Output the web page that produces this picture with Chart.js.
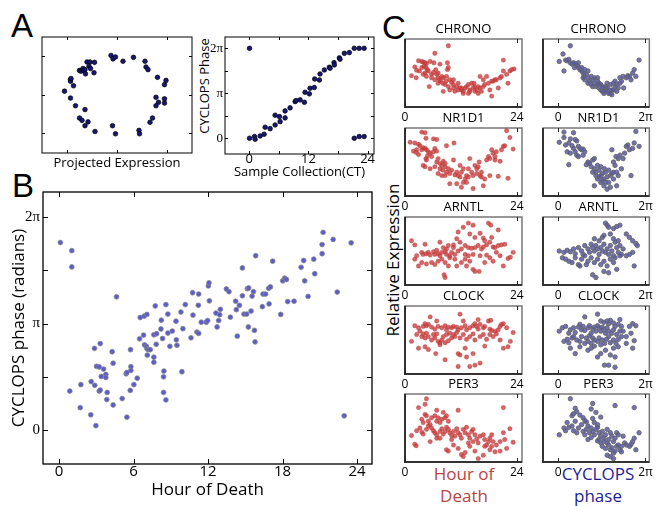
<!DOCTYPE html>
<html>
<head>
<meta charset="utf-8">
<script src="https://cdn.jsdelivr.net/npm/chart.js@4.4.1/dist/chart.umd.min.js"></script>
<style>
  body { margin: 0; background: #fff; }
  #fig { position: relative; width: 656px; height: 506px; overflow: hidden; font-family: 'Open Sans', sans-serif; }
  #fig canvas { position: absolute; }
  .lbl { position: absolute; white-space: nowrap; color: #000; }
  .letter { font-family: 'Liberation Sans', Arial, sans-serif; font-size: 33px; line-height: 33px; }
  .rot { transform: translate(-50%, -50%) rotate(-90deg); line-height: 1.2; }
  .foot { width: 120px; text-align: center; font-size: 17px; line-height: 22px; }
</style>
</head>
<body>
<div id="fig">
  <div class="lbl letter" style="left:11px;top:9px">A</div>
  <div class="lbl letter" style="left:12px;top:169px">B</div>
  <div class="lbl letter" style="left:382px;top:11px">C</div>
  <div class="lbl rot" style="left:205px;top:86px;font-size:13px">CYCLOPS Phase</div>
  <div class="lbl rot" style="left:393px;top:260px;font-size:17px">Relative Expression</div>
  <div class="lbl foot" style="left:404px;top:463px;color:#b8433f">Hour of<br>Death</div>
  <div class="lbl foot" style="left:538px;top:463px;color:#1e1e96">CYCLOPS<br>phase</div>
</div>
<script>
// A: projected expression (circle) and CYCLOPS phase vs sample time
const projectedExpression = [[-1.05,0.09],[-0.93,0.39],[-0.93,0.35],[-0.92,0.42],[-0.93,-0.09],[-0.87,0.23],[-0.83,-0.29],[-0.75,0.63],[-0.72,0.61],[-0.69,0.65],[-0.68,0.68],[-0.66,0.63],[-0.64,0.65],[-0.63,0.54],[-0.60,0.85],[-0.54,0.85],[-0.45,0.84],[-0.56,0.74],[-0.53,0.68],[-0.46,0.57],[-0.64,-0.39],[-0.75,-0.61],[-0.70,-0.67],[-0.58,-0.71],[-0.64,-0.81],[-0.44,-0.96],[-0.12,1.02],[-0.08,0.93],[-0.03,0.98],[0.12,0.87],[0.33,0.97],[0.56,0.87],[0.58,0.72],[0.62,0.65],[0.81,0.45],[0.95,0.26],[0.98,0.37],[0.78,-0.07],[0.83,-0.20],[0.78,-0.29],[0.95,-0.11],[0.95,-0.22],[0.71,-0.61],[0.66,-0.72],[0.44,-0.93],[0.45,-1.02],[-0.09,-0.81],[-0.03,-1.02]];
const sampleCollection = [[0.07,6.28],[0.07,0],[1.08,0.12],[1.21,-0.07],[2.23,0.16],[3.03,0.28],[3.24,0.77],[4.25,0.67],[5.26,0.93],[5.26,1.61],[6.14,1.51],[6.27,1.16],[7.28,1.42],[7.28,1.91],[8.29,2.12],[9.31,2.56],[9.51,2.63],[10.32,2.68],[11.19,2.51],[11.33,3.21],[12.2,3.10],[12.34,3.49],[13.2,3.54],[13.28,4.14],[14.23,4.07],[14.36,4.49],[15.24,4.77],[16.25,4.96],[16.39,4.89],[17.2,5.28],[17.26,5.12],[18.27,5.61],[18.41,5.52],[19.29,5.93],[20.3,5.98],[21.3,6.28],[22.3,6.28],[23.3,6.28],[21.3,0],[22.3,0.12],[23.3,0.12]];

// B: hour of death vs CYCLOPS phase
const hourOfDeath = [[0.1,5.53],[1.02,5.29],[1.02,4.81],[0.86,1.15],[1.75,1.34],[1.70,0.66],[2.55,0.45],[2.58,1.43],[2.87,1.32],[2.96,0.13],[2.85,2.41],[3.01,1.88],[3.23,1.86],[3.31,2.55],[3.23,1.15],[3.31,1.18],[3.39,1.58],[3.58,1.80],[3.76,1.64],[3.76,1.55],[3.87,1.11],[3.84,0.90],[4.27,2.31],[4.35,1.97],[4.35,0.74],[4.62,3.93],[5.08,0.93],[5.40,1.66],[5.46,1.70],[5.46,0.38],[5.73,1.17],[5.78,1.87],[5.78,1.76],[5.75,2.37],[6.02,1.34],[6.29,1.53],[6.48,2.69],[6.53,3.32],[6.80,2.80],[6.85,3.36],[6.88,2.51],[7.02,2.47],[7.07,3.41],[7.10,2.21],[7.07,2.40],[7.18,2.37],[7.34,2.37],[7.63,2.81],[7.63,2.15],[7.63,2.00],[7.74,3.66],[7.82,2.53],[7.85,2.84],[8.20,2.98],[8.33,2.70],[8.23,3.24],[8.41,1.57],[8.44,1.74],[8.41,1.11],[8.60,0.89],[8.60,3.70],[8.76,3.42],[8.76,2.86],[8.92,2.47],[9.11,2.92],[9.41,3.21],[9.44,2.66],[9.49,2.50],[9.81,3.48],[9.97,2.99],[9.89,1.72],[10.16,3.70],[10.62,2.72],[10.75,4.05],[10.78,3.39],[11.10,2.89],[11.21,3.68],[11.24,4.01],[11.24,2.85],[11.45,3.18],[11.85,3.18],[11.96,3.23],[12.02,4.25],[12.07,4.34],[12.10,3.81],[12.63,3.45],[12.72,3.04],[12.85,3.23],[12.93,3.40],[12.98,3.56],[13.47,4.16],[13.68,4.08],[13.79,3.33],[14.22,3.80],[14.27,3.55],[14.35,2.77],[14.52,3.68],[14.76,4.78],[14.76,3.96],[14.89,3.42],[15.11,3.42],[15.16,4.17],[15.27,4.19],[15.24,3.04],[15.46,3.51],[15.54,3.95],[15.65,4.08],[15.73,2.94],[15.78,2.60],[15.83,5.14],[16.37,3.64],[16.42,4.01],[16.63,4.01],[16.88,4.18],[16.91,3.72],[17.02,4.22],[17.20,4.98],[17.85,3.41],[18.01,4.40],[18.17,4.48],[18.31,4.44],[18.41,3.79],[18.92,3.80],[19.49,4.80],[19.70,5.00],[19.78,4.40],[20.05,3.94],[20.51,5.04],[20.59,4.61],[21.18,5.20],[21.18,5.47],[21.26,5.83],[22.07,5.62],[22.40,4.07],[22.96,0.42],[23.52,5.52]];

// C: relative expression per gene, by hour of death and by CYCLOPS phase
const genes = ['CHRONO', 'NR1D1', 'ARNTL', 'CLOCK', 'PER3'];
const chronoByHour = [[9.3,9.0],[6.4,7.9],[2.9,6.8],[3.6,6.7],[3.9,6.6],[4.3,6.5],[4.6,6.4],[5.4,6.7],[6.2,6.5],[9.1,6.5],[2.1,5.9],[1.4,4.6],[2.4,4.3],[2.5,5.4],[3.1,5.3],[3.6,5.8],[4.1,6.0],[4.5,5.8],[4.8,5.5],[5.0,5.3],[4.3,5.0],[3.9,4.8],[4.6,4.5],[5.2,3.0],[5.7,4.8],[6.1,5.1],[6.6,5.5],[6.8,4.8],[7.1,4.3],[7.4,4.0],[7.6,3.8],[8.1,3.5],[8.2,4.3],[8.6,3.3],[8.9,4.5],[9.1,5.5],[9.3,5.8],[9.3,3.0],[9.6,4.0],[10.0,3.6],[10.4,3.3],[10.7,2.3],[11.1,3.0],[11.4,3.5],[11.8,2.8],[12.1,2.5],[12.5,2.3],[12.9,2.8],[13.2,3.0],[13.6,2.0],[13.9,2.5],[14.3,3.5],[14.6,2.8],[15.0,3.0],[15.4,2.5],[15.7,2.0],[16.1,4.5],[16.4,2.3],[16.8,3.0],[17.1,3.3],[17.5,4.5],[17.9,3.5],[18.2,2.5],[18.6,1.6],[18.6,3.8],[18.9,3.8],[19.3,4.0],[19.6,4.0],[20.0,2.8],[20.4,4.3],[20.7,4.5],[21.1,5.3],[21.1,6.9],[21.8,4.8],[22.1,3.5],[22.5,5.3],[22.9,5.5],[23.4,5.6],[7.5,6.3],[7.1,5.0],[7.9,4.5],[8.8,3.8],[10.4,2.8],[12.1,2.8],[13.6,3.3],[14.8,3.5],[15.7,3.0],[16.8,4.0],[16.1,2.8],[8.2,2.3],[9.6,2.5],[10.4,4.0],[11.4,2.5],[12.5,2.0],[13.9,2.3],[15.0,2.3],[7.1,3.5],[6.4,4.0],[5.7,4.3]];
const chronoByPhase = [[0.87,9.0],[0.34,7.8],[0.07,6.7],[0.41,5.3],[0.53,6.9],[0.64,6.8],[0.76,7.0],[0.87,6.5],[0.99,6.3],[1.10,6.5],[1.22,6.4],[1.33,6.1],[1.17,5.8],[1.45,5.8],[1.56,5.5],[1.68,5.3],[1.79,5.0],[1.91,4.0],[1.86,4.6],[2.02,4.8],[2.14,4.3],[2.25,3.8],[2.37,4.5],[2.48,4.0],[2.60,3.5],[2.71,3.0],[2.83,4.3],[2.83,3.3],[2.94,2.8],[3.06,2.5],[3.17,2.3],[3.29,2.0],[3.33,2.5],[3.40,3.0],[3.52,2.8],[3.63,2.5],[3.75,2.0],[3.86,1.8],[3.98,2.5],[3.98,3.5],[4.09,3.0],[4.21,2.3],[4.32,2.8],[4.44,3.5],[4.44,4.3],[4.55,3.8],[4.67,4.5],[4.71,2.8],[4.90,4.3],[5.01,4.6],[5.13,4.5],[5.24,4.0],[5.36,5.0],[5.47,5.5],[5.59,4.5],[5.82,6.9],[2.48,3.0],[2.83,3.8],[3.06,3.3],[3.29,2.8],[3.52,3.5],[3.75,3.3],[3.40,2.3],[3.63,2.0],[3.86,2.5],[4.09,3.8],[4.21,3.3],[3.17,3.0],[2.94,3.5],[2.60,4.3],[2.14,5.3],[1.91,5.5],[1.68,5.8],[1.45,6.5],[2.14,3.5],[2.37,3.3],[1.79,4.3]];
const nr1d1ByHour = [[3.6,9.4],[4.3,9.3],[4.5,8.5],[6.1,8.4],[6.8,8.3],[1.1,7.9],[2.1,7.8],[2.9,7.6],[3.2,7.4],[2.5,6.8],[1.8,6.6],[2.4,6.4],[2.9,6.1],[3.6,6.8],[3.9,7.1],[4.3,7.0],[4.6,6.8],[5.0,6.5],[4.8,5.9],[5.4,6.3],[5.7,5.8],[6.1,6.5],[6.4,7.0],[6.8,6.6],[4.5,5.5],[3.9,4.5],[4.3,4.3],[4.6,5.3],[5.4,4.0],[6.4,4.3],[6.8,5.0],[7.1,5.5],[7.5,4.8],[7.9,4.5],[8.1,3.8],[8.2,5.1],[8.6,4.3],[8.9,7.4],[8.6,3.0],[8.9,3.5],[9.3,4.0],[9.6,3.3],[10.0,3.8],[10.4,5.3],[10.5,7.8],[10.7,3.1],[11.1,3.5],[11.4,3.0],[11.8,2.8],[12.1,3.5],[12.5,2.0],[12.9,2.5],[13.2,3.0],[13.6,2.8],[13.9,5.5],[14.3,3.5],[14.6,3.0],[14.6,1.1],[15.0,4.5],[15.4,4.0],[15.7,4.3],[15.9,5.0],[16.1,3.0],[16.4,2.8],[16.8,1.5],[17.1,2.5],[17.5,5.3],[17.9,5.8],[18.2,3.0],[18.6,6.8],[18.9,6.3],[19.3,5.3],[19.6,6.5],[20.0,2.9],[20.4,5.1],[20.7,6.8],[21.1,7.3],[21.4,7.4],[21.8,9.6],[22.5,8.6],[23.2,6.9],[22.1,2.6],[11.1,1.8],[11.8,4.5],[12.5,4.0],[13.6,4.0],[9.6,1.8],[7.1,3.3],[7.9,3.0],[8.6,4.8],[7.5,4.0],[12.1,1.3],[13.2,2.0],[15.4,3.3],[16.4,3.5],[18.2,5.5],[19.3,5.8]];
const nr1d1ByPhase = [[0.41,9.4],[1.10,9.3],[0.41,8.6],[0.07,7.9],[0.87,8.4],[1.22,8.3],[1.33,8.1],[0.53,7.5],[0.76,7.8],[0.99,7.4],[1.10,7.0],[1.45,7.3],[1.56,7.0],[1.68,6.8],[1.79,6.9],[1.91,6.5],[1.22,6.5],[0.87,6.3],[0.64,6.5],[1.33,6.0],[1.45,5.8],[1.79,6.0],[0.76,4.6],[2.02,4.6],[2.14,5.0],[2.25,4.8],[2.37,4.3],[2.48,5.3],[2.60,5.5],[2.60,4.0],[2.71,3.5],[2.83,4.5],[2.94,3.8],[3.06,4.3],[3.06,3.0],[3.17,3.3],[3.29,2.5],[3.33,4.0],[3.40,3.5],[3.52,2.8],[3.63,2.0],[3.75,3.0],[3.86,6.8],[3.98,5.0],[4.09,4.5],[4.16,5.8],[4.21,3.5],[4.32,5.5],[4.44,6.0],[4.55,4.0],[4.67,5.5],[4.78,6.3],[4.90,7.3],[5.01,7.5],[5.13,6.8],[5.24,3.0],[5.36,7.0],[5.47,7.8],[5.59,9.5],[5.82,7.3],[2.60,1.5],[3.06,2.0],[3.29,1.5],[3.52,1.0],[3.98,2.5],[4.21,1.5],[3.75,1.3],[2.71,3.0],[2.48,3.5],[2.94,2.8],[3.17,2.3],[3.40,2.0],[2.83,2.5],[3.86,3.3],[3.63,3.8],[4.32,3.0],[3.98,3.5]];
const arntlByHour = [[13.6,9.1],[14.6,8.8],[12.5,8.5],[17.9,9.1],[18.4,8.8],[20.0,8.1],[11.4,7.8],[13.9,7.5],[15.0,7.0],[16.1,7.6],[16.8,6.9],[17.1,6.5],[1.4,6.5],[2.1,5.9],[4.3,6.0],[7.5,6.3],[8.2,5.5],[9.3,5.8],[10.4,5.9],[11.1,6.8],[11.8,6.3],[12.1,5.3],[12.9,5.8],[13.6,5.5],[14.3,5.4],[15.0,5.5],[15.7,5.8],[16.4,5.3],[16.8,5.6],[17.5,5.9],[18.2,6.3],[18.9,5.6],[19.3,5.5],[20.0,5.8],[20.7,5.9],[21.4,6.0],[18.6,7.0],[3.6,4.8],[3.9,4.5],[4.6,4.6],[5.0,4.8],[5.4,4.4],[6.1,4.9],[6.4,4.5],[6.8,5.1],[7.1,4.6],[7.5,4.3],[7.9,4.8],[8.6,4.9],[8.9,4.5],[9.6,4.3],[10.0,4.8],[10.7,4.5],[11.4,5.0],[2.5,4.3],[2.1,3.8],[2.9,2.8],[3.6,3.3],[4.6,3.1],[5.7,3.3],[6.4,3.0],[7.1,3.5],[7.9,3.8],[8.6,3.3],[9.3,2.8],[9.6,4.0],[10.7,3.8],[11.1,2.8],[12.1,3.3],[12.9,3.8],[13.2,2.8],[13.9,3.5],[14.6,2.3],[15.0,2.0],[15.9,2.0],[16.1,4.3],[17.5,4.4],[18.2,4.0],[18.9,3.5],[20.4,4.3],[21.1,2.8],[22.1,3.9],[22.6,4.1],[23.2,4.8],[8.4,1.5],[8.6,1.1],[12.9,4.5],[13.6,4.3],[14.6,4.5],[17.1,3.3],[19.6,4.8],[10.4,5.5],[8.9,5.3]];
const arntlByPhase = [[3.40,9.1],[3.52,8.8],[3.63,8.5],[3.98,8.3],[4.21,8.6],[4.44,8.8],[2.60,6.8],[2.94,6.5],[3.17,7.0],[3.29,7.3],[3.75,7.5],[3.98,6.8],[4.09,6.3],[4.32,6.5],[4.44,5.8],[4.90,7.5],[5.13,7.0],[5.36,6.5],[5.59,6.1],[5.70,5.8],[0.07,5.0],[0.41,4.8],[0.64,5.1],[0.87,4.9],[1.10,5.3],[1.22,4.6],[1.45,5.5],[1.68,5.0],[1.79,4.5],[1.91,5.8],[2.14,5.3],[2.25,4.8],[2.37,6.0],[2.48,5.5],[2.60,5.0],[2.71,5.8],[2.83,5.3],[2.94,4.5],[3.06,5.5],[3.17,5.0],[3.29,6.0],[3.40,4.8],[3.52,5.3],[3.63,4.5],[3.75,5.8],[3.86,5.0],[3.98,4.3],[4.21,5.5],[4.32,4.8],[4.55,4.5],[4.67,5.3],[4.90,4.3],[5.13,4.5],[5.36,4.8],[5.47,2.8],[0.30,4.0],[0.53,3.8],[0.76,3.5],[0.99,3.3],[1.22,4.0],[1.45,3.0],[1.68,3.8],[1.91,4.3],[2.14,3.5],[2.37,4.0],[2.60,3.3],[2.83,3.8],[3.06,3.0],[3.29,3.5],[3.52,2.8],[3.75,3.8],[3.98,3.3],[4.21,2.3],[2.48,1.5],[2.71,1.1],[3.29,2.0],[3.63,1.8],[4.09,4.0],[4.44,4.3],[2.02,3.0],[1.56,2.8]];
const clockByHour = [[11.8,8.8],[5.4,8.4],[6.8,7.8],[12.5,7.8],[15.7,8.0],[17.9,7.8],[18.4,7.9],[2.1,7.1],[2.9,6.8],[3.9,7.0],[4.3,7.4],[4.6,7.1],[5.0,7.3],[5.7,6.9],[6.4,6.6],[7.1,7.0],[7.9,6.8],[8.6,7.1],[8.9,6.5],[9.3,6.9],[10.0,6.8],[10.4,7.0],[11.1,6.9],[11.4,6.5],[12.1,6.8],[12.9,7.1],[13.2,6.5],[13.9,6.8],[14.6,7.1],[15.0,7.4],[15.4,7.0],[15.7,6.6],[16.1,7.3],[16.8,6.8],[17.1,7.0],[18.2,6.6],[18.6,6.4],[19.3,6.3],[20.0,6.5],[20.4,7.0],[20.7,7.3],[21.1,7.4],[21.8,6.8],[23.2,6.1],[1.4,4.8],[2.5,5.8],[3.2,6.3],[3.6,5.5],[3.9,5.9],[4.3,5.3],[4.6,6.0],[5.0,5.5],[5.7,5.0],[6.1,5.8],[6.4,5.3],[6.8,5.9],[7.1,4.8],[7.5,4.6],[7.9,5.0],[8.2,5.5],[8.6,4.6],[8.9,5.8],[9.3,4.9],[9.6,6.0],[10.0,5.3],[10.4,5.8],[10.7,5.5],[11.1,6.1],[11.8,5.3],[12.5,5.8],[13.2,5.1],[13.9,5.5],[14.6,5.9],[15.0,5.0],[16.1,5.5],[16.8,5.8],[17.5,5.1],[18.2,5.8],[18.9,5.5],[19.6,5.9],[20.4,5.0],[21.1,3.8],[22.1,4.0],[22.6,4.8],[2.9,3.8],[4.3,4.0],[5.0,3.6],[6.6,3.0],[8.6,2.1],[11.4,3.0],[12.9,3.8],[11.8,2.8],[13.2,2.5],[13.9,1.1],[15.0,1.3],[16.1,1.6],[14.6,3.0],[17.1,4.1],[11.4,1.1],[7.5,4.3]];
const clockByPhase = [[2.83,8.8],[1.91,8.4],[4.44,8.0],[3.06,7.8],[3.29,7.6],[3.52,7.8],[3.63,7.4],[3.75,7.9],[3.98,7.5],[4.09,7.0],[4.32,7.3],[4.55,7.0],[4.67,6.3],[5.13,7.0],[5.36,7.4],[5.59,7.1],[0.07,6.3],[0.30,6.8],[0.53,7.0],[0.76,6.0],[0.87,6.5],[1.10,6.8],[1.22,6.1],[1.45,6.9],[1.56,7.3],[1.68,6.5],[1.79,7.0],[1.91,6.4],[2.14,6.8],[2.25,7.1],[2.37,6.0],[2.48,6.6],[2.60,6.9],[2.71,6.3],[2.83,7.1],[2.94,6.8],[3.06,6.3],[3.17,6.9],[3.29,6.5],[3.40,6.0],[3.52,6.8],[3.63,6.3],[3.86,6.0],[3.98,6.5],[4.21,5.8],[4.44,6.3],[4.90,5.5],[5.24,6.0],[5.47,4.9],[0.41,4.8],[0.64,5.1],[0.76,4.6],[0.99,5.3],[1.10,5.5],[1.33,5.0],[1.56,4.8],[1.68,5.5],[2.02,5.3],[2.14,4.8],[2.25,5.6],[2.37,4.5],[2.48,5.3],[2.60,5.0],[2.83,4.8],[2.94,5.3],[3.06,4.3],[3.17,5.0],[3.33,4.5],[3.47,5.1],[3.63,5.5],[3.75,4.6],[3.98,5.0],[4.16,4.5],[4.32,5.1],[4.55,5.5],[4.90,4.5],[5.36,3.8],[0.87,3.8],[1.22,3.0],[1.56,4.0],[1.91,4.5],[2.37,3.8],[2.60,4.1],[2.83,2.5],[3.06,3.0],[3.40,3.5],[3.75,2.8],[3.98,3.8],[4.09,2.5],[3.63,1.3],[3.33,1.3],[4.09,1.0],[4.32,4.0],[2.14,3.5]];
const per3ByHour = [[4.6,9.3],[4.3,8.5],[2.9,8.0],[6.8,7.6],[8.2,7.3],[11.4,7.6],[21.1,8.0],[4.3,7.0],[4.6,6.8],[3.6,6.3],[3.9,5.8],[5.0,6.0],[5.4,5.5],[5.7,6.5],[6.4,6.8],[6.8,6.0],[7.1,6.5],[7.5,5.8],[7.9,6.3],[8.6,6.5],[8.9,6.8],[9.3,6.0],[3.2,5.0],[2.5,4.6],[3.6,4.4],[3.9,4.1],[4.6,4.8],[5.0,5.3],[5.7,5.0],[6.1,4.6],[6.4,4.3],[6.8,4.0],[7.5,4.5],[7.9,4.9],[8.2,4.1],[8.6,4.5],[8.9,5.1],[9.3,4.8],[9.6,4.3],[10.0,3.9],[10.4,4.5],[10.7,3.8],[11.1,4.9],[11.4,4.3],[11.8,4.0],[12.1,3.5],[12.5,4.8],[12.9,4.3],[13.2,5.1],[13.6,4.0],[13.9,3.5],[14.3,4.5],[14.6,4.8],[15.0,4.0],[15.4,3.4],[15.7,2.8],[16.1,3.8],[16.8,4.0],[17.1,3.3],[17.5,2.5],[17.9,3.0],[18.2,3.5],[18.6,2.3],[18.9,3.0],[19.6,2.5],[20.4,3.0],[21.1,4.3],[21.4,3.3],[21.8,2.0],[22.5,4.9],[23.2,2.9],[1.4,3.9],[2.1,2.6],[2.4,2.4],[5.4,3.0],[6.8,3.5],[8.9,1.8],[9.3,1.6],[10.4,2.5],[11.4,2.0],[12.1,1.1],[12.5,0.8],[12.9,1.4],[13.9,2.3],[15.0,1.6],[15.7,0.5],[16.8,1.0],[18.2,1.8],[19.3,1.5],[20.4,1.6],[14.6,3.0],[13.6,2.8],[10.0,3.3],[17.1,2.3],[18.6,4.0],[7.5,3.5]];
const per3ByPhase = [[0.87,9.3],[2.48,8.6],[4.09,8.3],[5.47,8.0],[1.22,7.9],[1.33,7.4],[1.10,7.1],[0.99,6.8],[1.56,6.9],[1.79,6.5],[1.91,6.1],[2.02,5.9],[2.48,6.4],[2.71,7.3],[2.60,5.8],[2.83,5.5],[3.06,6.6],[1.22,6.0],[0.64,5.8],[0.41,5.0],[0.76,5.1],[0.53,4.6],[0.07,4.0],[0.99,5.3],[1.10,4.6],[1.33,4.3],[1.45,5.0],[1.68,5.5],[1.79,4.5],[1.91,4.0],[2.02,4.8],[2.14,5.3],[2.25,4.3],[2.37,5.0],[2.48,4.5],[2.60,4.0],[2.71,4.8],[2.83,5.1],[2.94,4.3],[3.06,3.8],[3.17,4.5],[3.29,3.5],[3.40,4.0],[3.52,4.8],[3.63,3.3],[3.75,4.3],[3.86,3.8],[3.98,3.0],[4.09,3.5],[4.21,4.3],[4.32,4.0],[2.94,3.3],[3.06,2.8],[3.17,2.3],[3.29,3.0],[3.40,2.0],[3.52,2.8],[3.63,2.5],[3.75,1.8],[3.86,2.1],[3.98,1.3],[4.09,1.6],[4.21,2.3],[4.32,2.5],[4.44,1.8],[4.55,2.3],[4.67,3.8],[4.78,2.8],[4.90,2.5],[5.13,2.3],[5.24,2.6],[5.36,3.0],[5.47,3.5],[5.82,4.3],[5.59,1.8],[3.52,1.0],[3.75,0.8],[3.98,0.5],[4.55,1.5],[2.37,3.6],[2.14,3.3],[2.83,3.1],[2.37,7.8]];

const byHour = [chronoByHour, nr1d1ByHour, arntlByHour, clockByHour, per3ByHour];
const byPhase = [chronoByPhase, nr1d1ByPhase, arntlByPhase, clockByPhase, per3ByPhase];

const hourTicks = [0, 6, 12, 18, 24];
const ctTicks = [0, 12, 24];
const piTicks = [0, Math.PI, 2 * Math.PI];
const piMinor = [0, Math.PI / 2, Math.PI, 3 * Math.PI / 2, 2 * Math.PI];

const SANS = "'Open Sans', sans-serif";
const SERIF = "'Liberation Serif', 'DejaVu Serif', serif";

const fig = document.getElementById('fig');

// box round the plot area with little inward ticks (matplotlib look)
const framePlugin = {
    id: 'frame',
    beforeDatasetsDraw(chart, args, opts) {
        const { ctx, chartArea: a, scales } = chart;
        ctx.save();
        ctx.strokeStyle = opts.color;
        ctx.lineWidth = opts.width;
        ctx.strokeRect(a.left, a.top, a.right - a.left, a.bottom - a.top);
        if (opts.heavy) {
            ctx.strokeStyle = opts.heavy;
            ctx.lineWidth = 2;
            ctx.beginPath();
            ctx.moveTo(a.left, a.top); ctx.lineTo(a.left, a.bottom); ctx.lineTo(a.right, a.bottom);
            ctx.stroke();
        }
        ctx.strokeStyle = opts.tickColor || opts.color;
        ctx.lineWidth = 1;
        ctx.beginPath();
        const len = opts.tick;
        (opts.xTicks || []).forEach(v => {
            const px = Math.round(scales.x.getPixelForValue(v)) + 0.5;
            ctx.moveTo(px, a.top); ctx.lineTo(px, a.top + len);
            ctx.moveTo(px, a.bottom); ctx.lineTo(px, a.bottom - len);
        });
        (opts.yTicks || []).forEach(v => {
            const py = Math.round(scales.y.getPixelForValue(v)) + 0.5;
            ctx.moveTo(a.left, py); ctx.lineTo(a.left + len, py);
            ctx.moveTo(a.right, py); ctx.lineTo(a.right - len, py);
        });
        ctx.stroke();
        ctx.restore();
    }
};

function addChart(left, top, width, height, config) {
    const c = document.createElement('canvas');
    c.width = width;
    c.height = height;
    c.style.left = left + 'px';
    c.style.top = top + 'px';
    c.style.width = width + 'px';
    c.style.height = height + 'px';
    fig.appendChild(c);
    config.type = 'scatter';
    config.plugins = [framePlugin];
    config.options = Object.assign({ responsive: false, animation: false, devicePixelRatio: 1 }, config.options);
    config.options.plugins = Object.assign({ legend: { display: false }, tooltip: { enabled: false } }, config.options.plugins);
    return new Chart(c, config);
}

const setTicks = vals => scale => { scale.ticks = vals.map(v => ({ value: v })); };
const piLabel = v => (v === 0 ? '0' : Math.abs(v - Math.PI) < 1e-6 ? 'π' : '2π');
const noGrid = { display: false, drawTicks: false };
const noBorder = { display: false };

const navyPts = { pointRadius: 2.3, pointBackgroundColor: '#17177a', pointBorderColor: '#000', pointBorderWidth: 0.7 };
const bluePts = { pointRadius: 2.4, pointBackgroundColor: '#5a5ad2', pointBorderColor: '#888', pointBorderWidth: 0.8 };
const redPts = { pointRadius: 2.2, pointBackgroundColor: 'rgba(205,62,62,0.8)', pointBorderColor: 'rgba(175,55,55,0.7)', pointBorderWidth: 0.5 };
const grayBluePts = { pointRadius: 2.2, pointBackgroundColor: 'rgba(88,88,172,0.85)', pointBorderColor: '#666', pointBorderWidth: 0.9 };

// A left
addChart(0, 0, 200, 175, {
    data: { datasets: [Object.assign({ data: projectedExpression }, navyPts)] },
    options: {
        layout: { padding: { left: 42, top: 37, right: 8, bottom: 0 } },
        plugins: { frame: { color: '#000', width: 1, tick: 3, xTicks: [-1, 0, 1], yTicks: [-1, 0, 1] } },
        scales: {
            x: {
                min: -1.5, max: 1.5, grid: noGrid, border: noBorder, ticks: { display: false },
                title: { display: true, text: 'Projected Expression', color: '#000', font: { family: SANS, size: 13 }, padding: { top: 0, bottom: 4 } },
                afterFit: s => { s.height = 22; }
            },
            y: { display: false, min: -1.52, max: 1.5 }
        }
    }
});

// A right
addChart(190, 0, 190, 180, {
    data: { datasets: [Object.assign({ data: sampleCollection }, navyPts)] },
    options: {
        layout: { padding: { left: 0, top: 37, right: 6, bottom: 0 } },
        plugins: { frame: { color: '#000', width: 1, tick: 3, xTicks: hourTicks, yTicks: piMinor } },
        scales: {
            x: {
                min: -4.9, max: 25.3, grid: noGrid, border: noBorder,
                afterBuildTicks: setTicks(ctTicks),
                ticks: { color: '#000', font: { family: SANS, size: 13 }, padding: -3, maxRotation: 0 },
                title: { display: true, text: 'Sample Collection(CT)', color: '#000', font: { family: SANS, size: 13 }, padding: { top: 0, bottom: 0 } },
                afterFit: s => { s.height = 26; }
            },
            y: {
                min: -1.1, max: 7.07, grid: noGrid, border: noBorder,
                afterBuildTicks: setTicks(piTicks),
                ticks: { color: '#000', font: { family: SERIF, size: 13 }, padding: 2, callback: piLabel },
                afterFit: s => { s.width = 35; }
            }
        }
    }
});

// B
addChart(0, 180, 380, 325, {
    data: { datasets: [Object.assign({ data: hourOfDeath }, bluePts)] },
    options: {
        layout: { padding: { left: 0, top: 6, right: 8, bottom: 0 } },
        plugins: { frame: { color: '#000', width: 1.3, tick: 5, xTicks: hourTicks, yTicks: piMinor } },
        scales: {
            x: {
                min: -1.3, max: 25.2, grid: noGrid, border: noBorder,
                afterBuildTicks: setTicks(hourTicks),
                ticks: { color: '#000', font: { family: SANS, size: 15 }, padding: -1, maxRotation: 0 },
                title: { display: true, text: 'Hour of Death', color: '#000', font: { family: SANS, size: 17 }, padding: { top: 0, bottom: 5 } },
                afterFit: s => { s.height = 41; }
            },
            y: {
                min: -1.0, max: 7.02, grid: noGrid, border: noBorder,
                afterBuildTicks: setTicks(piTicks),
                ticks: { color: '#000', font: { family: SERIF, size: 15 }, padding: 3, callback: piLabel },
                title: { display: true, text: 'CYCLOPS phase (radians)', color: '#000', font: { family: SANS, size: 17 }, padding: { top: 9, bottom: 0 } },
                afterFit: s => { s.width = 43; }
            }
        }
    }
});

// C: two columns of small panels
const rowTops = [39, 128, 217, 306, 394];

function geneChart(row, isPhase) {
    const pts = isPhase ? byPhase[row] : byHour[row];
    const xEnd = isPhase ? 2 * Math.PI : 24;
    const left = isPhase ? 533 : 395;
    const width = isPhase ? 123 : 137;
    addChart(left, rowTops[row] - 18, width, 106, {
        data: { datasets: [Object.assign({ data: pts }, isPhase ? grayBluePts : redPts)] },
        options: {
            layout: { padding: { left: 10, top: 0, right: isPhase ? 2 : 10, bottom: 0 } },
            plugins: {
                title: { display: true, text: genes[row], color: '#000', font: { family: SANS, size: 13, weight: 'normal', lineHeight: 1.2 }, padding: { top: 0, bottom: 2.4 } },
                frame: { color: '#777', heavy: '#333', width: 1.5, tick: 4, tickColor: '#222', xTicks: [0, xEnd] }
            },
            scales: {
                x: {
                    min: isPhase ? -1.1 : 0, max: isPhase ? 6.56 : 25.1, grid: noGrid, border: noBorder,
                    afterBuildTicks: setTicks([0, xEnd]),
                    ticks: { color: '#000', font: { family: SANS, size: 12 }, padding: 3, maxRotation: 0,
                        callback: v => (v === 0 ? '0' : isPhase ? '2π' : '24') },
                    afterFit: s => { s.height = 20; }
                },
                y: { display: false, min: 0, max: 10 }
            }
        }
    });
}

for (let r = 0; r < genes.length; r++) {
    geneChart(r, false);
    geneChart(r, true);
}
</script>
</body>
</html>
